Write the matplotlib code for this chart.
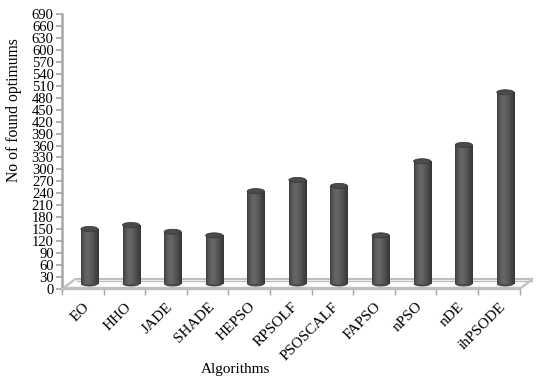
import numpy as np
import matplotlib
matplotlib.use("Agg")
import matplotlib.pyplot as plt
from matplotlib.patches import Ellipse, Polygon, Rectangle
from matplotlib.colors import LinearSegmentedColormap

# number of optimums found by each algorithm
algorithms = ["EO", "HHO", "JADE", "SHADE", "HEPSO", "RPSOLF", "PSOSCALF",
              "FAPSO", "nPSO", "nDE", "ihPSODE"]
found = [138, 148, 131, 122, 233, 261, 246, 122, 308, 349, 481]

y_ticks = list(range(0, 691, 30))

plt.rcParams["font.family"] = ["Liberation Serif", "DejaVu Serif"]

fig = plt.figure(figsize=(5.36, 3.81), dpi=100)
ax = fig.add_axes([62 / 536, 92 / 381, 457.5 / 536, 275 / 381])

n = len(algorithms)
ax.set_xlim(0, n)
ax.set_ylim(0, 690)

# fake 3d depth of the floor (in data units)
depth_x = 0.32
depth_y = 25
base = 12.6          # where the cylinders stand on the floor
bar_w = 0.41
cap_h = 12.6

grey = "#bfbfbf"

# floor slab
floor = Polygon([(0, 0), (n, 0), (n + depth_x, depth_y), (depth_x, depth_y)],
                closed=True, facecolor="white", edgecolor=grey, lw=1.6,
                clip_on=False, zorder=1)
ax.add_patch(floor)
ax.plot([0 + 0.02, n - 0.02], [4, 4], color=grey, lw=1.0, clip_on=False, zorder=1)
ax.plot([depth_x + 0.03, n + depth_x - 0.03], [depth_y - 4, depth_y - 4],
        color=grey, lw=1.0, clip_on=False, zorder=1)

# horizontal shading across a cylinder
shade = LinearSegmentedColormap.from_list(
    "cyl", ["#404040", "#5e5e5e", "#676767", "#5a5a5a", "#484848", "#363636"])
grad = np.linspace(0, 1, 64).reshape(1, -1)

for i, v in enumerate(found):
    xc = i + 0.5 + depth_x / 2
    x0 = xc - bar_w / 2
    top = base + v
    bot = Ellipse((xc, base), bar_w, cap_h, facecolor="#4a4a4a",
                  edgecolor="none", zorder=2)
    ax.add_patch(bot)
    body = Rectangle((x0, base), bar_w, v, facecolor="none", edgecolor="none",
                     zorder=3)
    ax.add_patch(body)
    im = ax.imshow(grad, cmap=shade, aspect="auto", interpolation="bilinear",
                   extent=(x0, x0 + bar_w, base, top), zorder=3)
    im.set_clip_path(body)
    cap = Ellipse((xc, top), bar_w, cap_h, facecolor="#4b4b4b",
                  edgecolor="#3a3a3a", lw=0.6, zorder=4)
    ax.add_patch(cap)

ax.set_xlim(0, n)
ax.set_ylim(0, 690)

# axes styling
for side in ["top", "right"]:
    ax.spines[side].set_visible(False)
ax.spines["left"].set_color("#a6a6a6")
ax.spines["left"].set_linewidth(1.8)
ax.spines["bottom"].set_color(grey)
ax.spines["bottom"].set_linewidth(1.6)

ax.set_yticks(y_ticks)
ax.tick_params(axis="y", direction="out", length=4, width=1.2, color="#a6a6a6",
               labelsize=10.5, pad=2)
ax.set_xticks(range(n + 1))
ax.set_xticklabels([])
ax.tick_params(axis="x", which="major", direction="out", length=4, width=1.0,
               color="#a6a6a6")
ax.set_xticks([i + 0.5 for i in range(n)], minor=True)
ax.set_xticklabels(algorithms, minor=True, rotation=45, ha="right",
                   rotation_mode="anchor", fontsize=11)
ax.tick_params(axis="x", which="minor", length=0, pad=8)

fig.text(14 / 536, 1 - 110 / 381, "No of found optimums", rotation=90,
         ha="center", va="center", fontsize=11.3)
fig.text(236 / 536, 1 - 370 / 381, "Algorithms", ha="center", va="center",
         fontsize=11)

fig.savefig("out.png", dpi=100)
